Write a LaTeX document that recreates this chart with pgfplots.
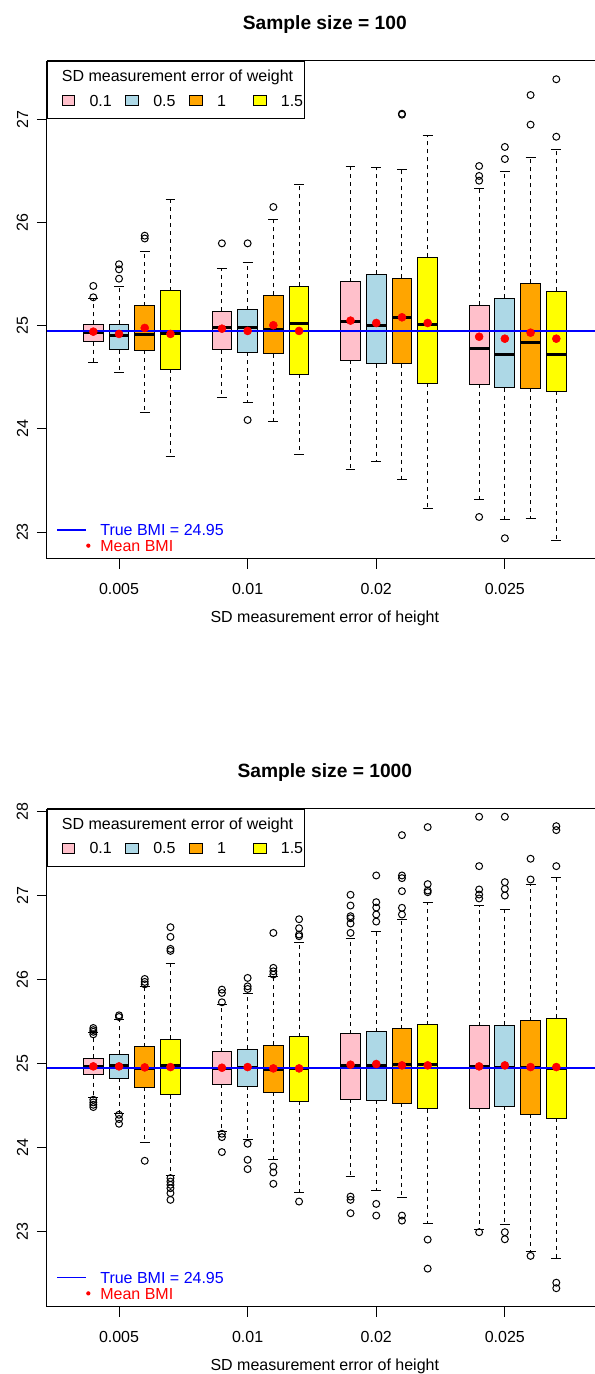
\documentclass[border=0pt]{standalone}
\usepackage{fontspec}
\setmainfont{Liberation Sans}
\usepackage{pgfplots}
\pgfplotsset{compat=1.18}
\usepgfplotslibrary{statistics}

\definecolor{wPink}{RGB}{255,192,203}
\definecolor{wBlue}{RGB}{173,216,230}
\definecolor{wOrange}{RGB}{255,165,0}
\definecolor{wYellow}{RGB}{255,255,0}

\pgfplotsset{
  boxplot/draw direction=y,
  boxplot/box extend=0.77,
  % dashed whisker, solid staple of half the box width
  rwhisk/.style={
    boxplot/draw/lower whisker/.code={%
      \draw[black, line width=0.75pt, dash pattern=on 3pt off 3pt]
        (boxplot box cs:\pgfplotsboxplotvalue{lower quartile},0.5) -- (boxplot box cs:\pgfplotsboxplotvalue{lower whisker},0.5);
      \draw[black, line width=0.75pt]
        (boxplot box cs:\pgfplotsboxplotvalue{lower whisker},0.25) -- (boxplot box cs:\pgfplotsboxplotvalue{lower whisker},0.75);
    },
    boxplot/draw/upper whisker/.code={%
      \draw[black, line width=0.75pt, dash pattern=on 3pt off 3pt]
        (boxplot box cs:\pgfplotsboxplotvalue{upper quartile},0.5) -- (boxplot box cs:\pgfplotsboxplotvalue{upper whisker},0.5);
      \draw[black, line width=0.75pt]
        (boxplot box cs:\pgfplotsboxplotvalue{upper whisker},0.25) -- (boxplot box cs:\pgfplotsboxplotvalue{upper whisker},0.75);
    },
  },
  bx/.style={
    boxplot/draw direction=y,
    mark=o, mark size=2.6pt, mark options={solid, black, line width=0.75pt, fill=none},
    boxplot/every box/.style={draw=black, line width=0.75pt, fill=#1},
    boxplot/every median/.style={draw=black, line width=2.25pt},
  },
  swatch/.style={legend image code/.code={%
    \draw[draw=black, line width=0.75pt, fill=#1] (0pt,-2.5pt) rectangle (9.5pt,5pt);}},
  panel/.style={
    scale only axis, width=416.7pt, height=373.5pt, anchor=south west,
    xmin=-0.8, xmax=20.8,
    axis x line*=box, axis y line*=left,
    axis line style={black, line width=0.75pt},
    tick align=outside, major tick length=7.5pt,
    tick style={black, line width=0.75pt},
    xtick={2,7,12,17}, xticklabels={0.005,0.01,0.02,0.025},
    xtick pos=left,
    xticklabel style={anchor=north, inner sep=0pt, yshift=-10.5pt},
    yticklabel style={xshift=-6.5pt, rotate=90, anchor=south, inner sep=0pt},
    /pgf/number format/assume math mode=true,
    xlabel={SD measurement error of height},
    every axis x label/.style={at={(axis description cs:0.5,0)}, anchor=base, yshift=-48pt},
    every axis title/.style={at={(axis description cs:0.5,1)}, anchor=base, yshift=23.25pt,
      font=\bfseries\fontsize{14.4}{17}\selectfont},
    legend columns=4, legend cell align=left,
    legend style={at={(0,1)}, anchor=north west, draw=black, line width=0.75pt, fill=white,
      inner xsep=10.5pt, inner ysep=6.1pt, row sep=6.45pt, column sep=0pt,
      nodes={inner sep=0pt, text height=9pt, text depth=3pt}},
  },
  overlay/.style={
    scale only axis, width=416.7pt, height=373.5pt, anchor=south west,
    xmin=-0.8, xmax=20.8, hide axis,
    legend cell align=left,
    legend style={at={(0,0)}, anchor=south west, draw=none, fill=none,
      inner xsep=6.75pt, inner ysep=2.5pt, row sep=-0.2pt, column sep=0pt,
      nodes={inner sep=0pt, text height=9pt, text depth=3pt}},
  },
  trueline/.style={blue, line width=1.5pt,
    legend image code/.code={%
      \draw[draw=blue, line width=1.1pt] (0pt,1.3pt) -- (21.75pt,1.3pt);
      \path[draw=none, fill=none] (21.75pt,1.3pt) -- (25.1pt,1.3pt);}},
  meandots/.style={only marks, mark=*, mark size=3pt, mark options={draw=red, fill=red},
    legend image code/.code={%
      \path[draw=none, fill=none] (0pt,1.3pt) -- (21.75pt,1.3pt);
      \fill[red, draw=none] (23.5pt,1.3pt) circle[radius=1.6pt];}},
}

% mean BMI per box (position, mean)
\pgfplotstableread{
pos mean
1  24.942
2  24.920
3  24.978
4  24.920
6  24.971
7  24.949
8  25.004
9  24.949
11 25.049
12 25.026
13 25.081
14 25.026
16 24.893
17 24.874
18 24.932
19 24.874
}\meansSmall
\pgfplotstableread{
pos mean
1  24.968
2  24.968
3  24.956
4  24.960
6  24.952
7  24.960
8  24.944
9  24.944
11 24.988
12 24.996
13 24.980
14 24.980
16 24.968
17 24.980
18 24.960
19 24.960
}\meansLarge

\newcommand\weightlegend{%
\addlegendimage{empty legend}
\addlegendentry{\makebox[0pt][l]{\hspace*{-10.4pt}SD measurement error of weight}}
\addlegendimage{empty legend}\addlegendentry{}
\addlegendimage{empty legend}\addlegendentry{}
\addlegendimage{empty legend}\addlegendentry{}
\addlegendimage{swatch=wPink}\addlegendentry{\makebox[37.6pt][l]{\hspace*{10.75pt}0.1}}
\addlegendimage{swatch=wBlue}\addlegendentry{\makebox[37.6pt][l]{\hspace*{10.75pt}0.5}}
\addlegendimage{swatch=wOrange}\addlegendentry{\makebox[37.6pt][l]{\hspace*{10.75pt}1}}
\addlegendimage{swatch=wYellow}\addlegendentry{\makebox[17.9pt][l]{\hspace*{10.75pt}1.5}}
}

\begin{document}
\fontsize{12}{14.4}\selectfont
\begin{tikzpicture}
\useasboundingbox (0,0) rectangle (446.25pt,1030.5pt);
\clip (0,0) rectangle (446.25pt,1030.5pt);

% ---------------- sample size 100 ----------------
\begin{axis}[panel, rwhisk, at={(35.25pt,611.25pt)}, ymin=22.739, ymax=27.565,
  ytick={23,24,25,26,27}, title={Sample size = 100}]
\weightlegend
\addplot[bx=wPink, boxplot prepared={draw position=1, lower whisker=24.640, lower quartile=24.845, median=24.932, upper quartile=25.013, upper whisker=25.265}] coordinates {(1,25.385) (1,25.275)};
\addplot[bx=wBlue, boxplot prepared={draw position=2, lower whisker=24.548, lower quartile=24.768, median=24.907, upper quartile=25.013, upper whisker=25.378}] coordinates {(2,25.595) (2,25.546) (2,25.455)};
\addplot[bx=wOrange, boxplot prepared={draw position=3, lower whisker=24.157, lower quartile=24.762, median=24.917, upper quartile=25.194, upper whisker=25.717}] coordinates {(3,25.872) (3,25.845)};
\addplot[bx=wYellow, boxplot prepared={draw position=4, lower whisker=23.728, lower quartile=24.577, median=24.926, upper quartile=25.339, upper whisker=26.225}] coordinates {};
\addplot[bx=wPink, boxplot prepared={draw position=6, lower whisker=24.302, lower quartile=24.765, median=24.984, upper quartile=25.142, upper whisker=25.556}] coordinates {(6,25.798)};
\addplot[bx=wBlue, boxplot prepared={draw position=7, lower whisker=24.251, lower quartile=24.742, median=24.978, upper quartile=25.152, upper whisker=25.608}] coordinates {(7,25.798) (7,24.086)};
\addplot[bx=wOrange, boxplot prepared={draw position=8, lower whisker=24.073, lower quartile=24.726, median=24.965, upper quartile=25.294, upper whisker=26.031}] coordinates {(8,26.150)};
\addplot[bx=wYellow, boxplot prepared={draw position=9, lower whisker=23.754, lower quartile=24.529, median=25.023, upper quartile=25.382, upper whisker=26.370}] coordinates {};
\addplot[bx=wPink, boxplot prepared={draw position=11, lower whisker=23.605, lower quartile=24.665, median=25.039, upper quartile=25.426, upper whisker=26.545}] coordinates {};
\addplot[bx=wBlue, boxplot prepared={draw position=12, lower whisker=23.686, lower quartile=24.629, median=25.004, upper quartile=25.498, upper whisker=26.535}] coordinates {};
\addplot[bx=wOrange, boxplot prepared={draw position=13, lower whisker=23.508, lower quartile=24.632, median=25.075, upper quartile=25.459, upper whisker=26.512}] coordinates {(13,27.054) (13,27.045)};
\addplot[bx=wYellow, boxplot prepared={draw position=14, lower whisker=23.227, lower quartile=24.442, median=25.010, upper quartile=25.663, upper whisker=26.841}] coordinates {};
\addplot[bx=wPink, boxplot prepared={draw position=16, lower whisker=23.314, lower quartile=24.432, median=24.777, upper quartile=25.198, upper whisker=26.325}] coordinates {(16,26.547) (16,26.451) (16,26.405) (16,23.146)};
\addplot[bx=wBlue, boxplot prepared={draw position=17, lower whisker=23.117, lower quartile=24.399, median=24.723, upper quartile=25.268, upper whisker=26.492}] coordinates {(17,26.732) (17,26.615) (17,22.940)};
\addplot[bx=wOrange, boxplot prepared={draw position=18, lower whisker=23.127, lower quartile=24.396, median=24.839, upper quartile=25.411, upper whisker=26.625}] coordinates {(18,27.235) (18,26.948)};
\addplot[bx=wYellow, boxplot prepared={draw position=19, lower whisker=22.920, lower quartile=24.364, median=24.723, upper quartile=25.333, upper whisker=26.705}] coordinates {(19,27.388) (19,26.831)};
\end{axis}
\begin{axis}[overlay, at={(35.25pt,611.25pt)}, ymin=22.739, ymax=27.565]
\addplot[trueline] coordinates {(-0.8,24.95) (20.8,24.95)};
\addlegendentry{\hspace*{7.4pt}\textcolor{blue}{True BMI = 24.95}}
\addplot[meandots] table[x=pos, y=mean] {\meansSmall};
\addlegendentry{\hspace*{7.4pt}\textcolor{red}{Mean BMI}}
\end{axis}

% ---------------- sample size 1000 ----------------
\begin{axis}[panel, rwhisk, at={(35.25pt,50.475pt)}, ymin=22.107, ymax=28.036,
  ytick={23,24,25,26,27,28}, title={Sample size = 1000}]
\weightlegend
\addplot[bx=wPink, boxplot prepared={draw position=1, lower whisker=24.598, lower quartile=24.869, median=24.968, upper quartile=25.063, upper whisker=25.366}] coordinates {(1,25.425) (1,25.400) (1,25.380) (1,25.350) (1,24.571) (1,24.539) (1,24.511) (1,24.484)};
\addplot[bx=wBlue, boxplot prepared={draw position=2, lower whisker=24.412, lower quartile=24.825, median=24.976, upper quartile=25.111, upper whisker=25.524}] coordinates {(2,25.576) (2,25.556) (2,24.392) (2,24.341) (2,24.285)};
\addplot[bx=wOrange, boxplot prepared={draw position=3, lower whisker=24.067, lower quartile=24.718, median=24.944, upper quartile=25.203, upper whisker=25.921}] coordinates {(3,26.009) (3,25.974) (3,25.945) (3,23.844)};
\addplot[bx=wYellow, boxplot prepared={draw position=4, lower whisker=23.665, lower quartile=24.631, median=24.980, upper quartile=25.290, upper whisker=26.196}] coordinates {(4,26.625) (4,26.510) (4,26.367) (4,26.343) (4,23.638) (4,23.597) (4,23.558) (4,23.518) (4,23.459) (4,23.379)};
\addplot[bx=wPink, boxplot prepared={draw position=6, lower whisker=24.193, lower quartile=24.758, median=24.940, upper quartile=25.143, upper whisker=25.703}] coordinates {(6,25.882) (6,25.842) (6,25.731) (6,24.166) (6,24.126) (6,23.948)};
\addplot[bx=wBlue, boxplot prepared={draw position=7, lower whisker=24.094, lower quartile=24.730, median=24.960, upper quartile=25.175, upper whisker=25.831}] coordinates {(7,26.021) (7,25.921) (7,25.890) (7,24.047) (7,23.856) (7,23.745)};
\addplot[bx=wOrange, boxplot prepared={draw position=8, lower whisker=23.856, lower quartile=24.662, median=24.928, upper quartile=25.222, upper whisker=26.041}] coordinates {(8,26.557) (8,26.141) (8,26.100) (8,26.061) (8,23.776) (8,23.705) (8,23.570)};
\addplot[bx=wYellow, boxplot prepared={draw position=9, lower whisker=23.467, lower quartile=24.555, median=24.944, upper quartile=25.322, upper whisker=26.438}] coordinates {(9,26.720) (9,26.613) (9,26.538) (9,26.518) (9,23.359)};
\addplot[bx=wPink, boxplot prepared={draw position=11, lower whisker=23.657, lower quartile=24.579, median=24.980, upper quartile=25.354, upper whisker=26.494}] coordinates {(11,27.011) (11,26.883) (11,26.756) (11,26.732) (11,26.669) (11,26.557) (11,23.418) (11,23.379) (11,23.220)};
\addplot[bx=wBlue, boxplot prepared={draw position=12, lower whisker=23.490, lower quartile=24.567, median=24.980, upper quartile=25.378, upper whisker=26.577}] coordinates {(12,27.241) (12,26.923) (12,26.859) (12,26.776) (12,26.692) (12,23.331) (12,23.192)};
\addplot[bx=wOrange, boxplot prepared={draw position=13, lower whisker=23.403, lower quartile=24.531, median=24.996, upper quartile=25.417, upper whisker=26.716}] coordinates {(13,27.721) (13,27.241) (13,27.209) (13,27.054) (13,26.856) (13,26.776) (13,23.192) (13,23.132)};
\addplot[bx=wYellow, boxplot prepared={draw position=14, lower whisker=23.097, lower quartile=24.464, median=24.996, upper quartile=25.461, upper whisker=26.915}] coordinates {(14,27.817) (14,27.138) (14,27.062) (14,27.042) (14,22.906) (14,22.560)};
\addplot[bx=wPink, boxplot prepared={draw position=16, lower whisker=23.021, lower quartile=24.472, median=24.968, upper quartile=25.453, upper whisker=26.883}] coordinates {(16,27.940) (16,27.352) (16,27.074) (16,27.014) (16,26.967) (16,22.994)};
\addplot[bx=wBlue, boxplot prepared={draw position=17, lower whisker=23.085, lower quartile=24.496, median=24.960, upper quartile=25.457, upper whisker=26.832}] coordinates {(17,27.940) (17,27.161) (17,27.082) (17,27.002) (17,22.994) (17,22.910)};
\addplot[bx=wOrange, boxplot prepared={draw position=18, lower whisker=22.763, lower quartile=24.396, median=24.960, upper quartile=25.509, upper whisker=27.130}] coordinates {(18,27.440) (18,27.193) (18,22.712)};
\addplot[bx=wYellow, boxplot prepared={draw position=19, lower whisker=22.676, lower quartile=24.353, median=24.937, upper quartile=25.540, upper whisker=27.217}] coordinates {(19,27.828) (19,27.781) (19,27.352) (19,22.393) (19,22.327)};
\end{axis}
\begin{axis}[overlay, at={(35.25pt,50.475pt)}, ymin=22.107, ymax=28.036]
\addplot[trueline] coordinates {(-0.8,24.95) (20.8,24.95)};
\addlegendentry{\hspace*{7.4pt}\textcolor{blue}{True BMI = 24.95}}
\addplot[meandots] table[x=pos, y=mean] {\meansLarge};
\addlegendentry{\hspace*{7.4pt}\textcolor{red}{Mean BMI}}
\end{axis}
\end{tikzpicture}
\end{document}
